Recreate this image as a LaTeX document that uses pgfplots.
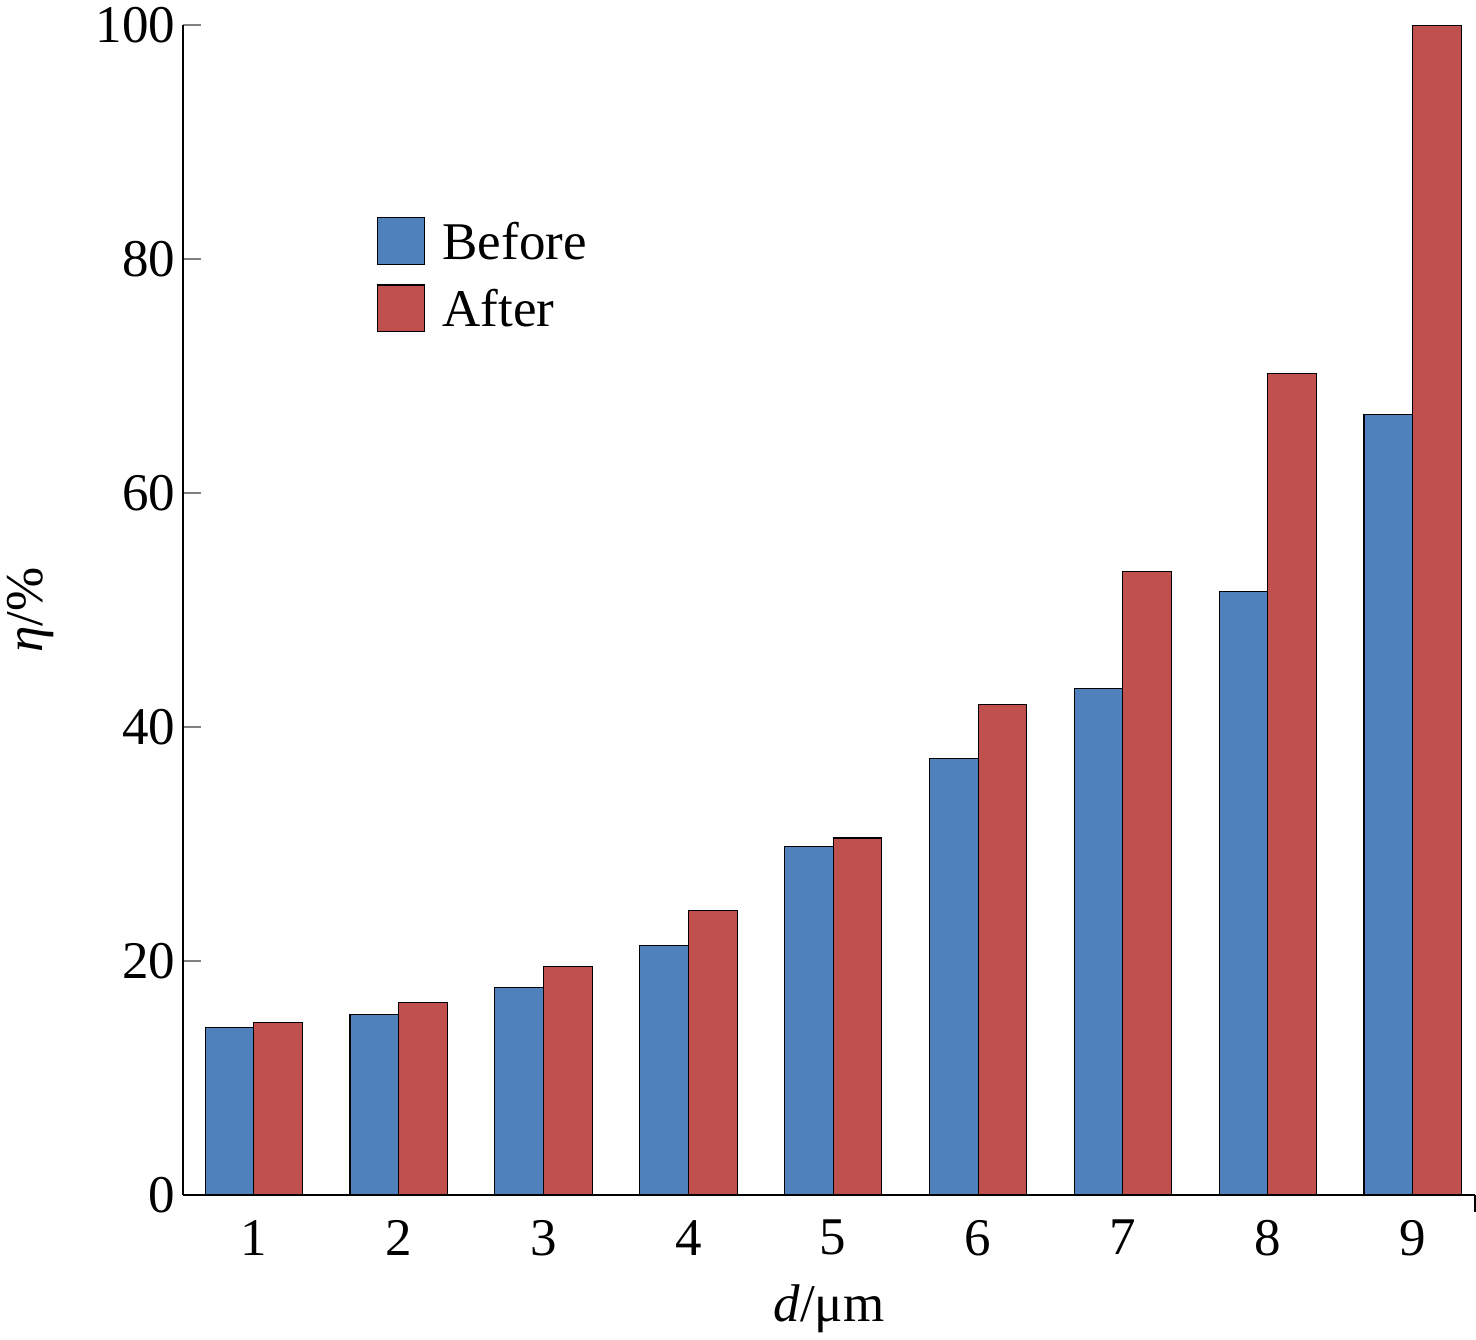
\documentclass[border=0pt]{standalone}
\usepackage{pgfplots}
\pgfplotsset{compat=1.18}
\usepackage{fontspec}
\setmainfont{Liberation Serif}
\definecolor{cb}{HTML}{4F81BD}
\definecolor{cr}{HTML}{C0504D}
\begin{document}
\begin{tikzpicture}
\begin{axis}[
  scale only axis, width=585pt, height=529.5pt,
  xmin=0.51, xmax=9.43, ymin=0, ymax=100,
  axis x line*=bottom, axis y line*=left,
  axis line style={line width=1pt, -},
  ytick={0,20,...,100}, xtick={1,...,9},
  x tick style={draw=none},
  y tick style={line width=1pt},
  tick align=inside, major tick length=8pt,
  tick label style={font=\fontsize{24}{28}\selectfont},
  /pgf/number format/assume math mode=true,
  xlabel={\textit{d}/μm}, ylabel={\textit{η}/\%},
  label style={font=\fontsize{24}{28}\selectfont},
  xlabel style={yshift=-6pt},
  ylabel style={yshift=12pt},
  ybar, bar width=0.336,
  legend style={draw=none, fill=none, at={(0.145,0.84)}, anchor=north west,
    font=\fontsize{24}{28}\selectfont, row sep=8pt},
  legend cell align=left,
  legend image code/.code={\draw[#1, draw=black, line width=0.5pt] (0pt,-10pt) rectangle (21pt,11pt);},
  clip=false,
]
\addplot[fill=cb, draw=black, line width=0.5pt, bar shift=-0.168] coordinates {
(1,14.3)(2,15.4)(3,17.7)(4,21.3)(5,29.8)(6,37.3)(7,43.3)(8,51.6)(9,66.7)};
\addplot[fill=cr, draw=black, line width=0.5pt, bar shift=0.168] coordinates {
(1,14.7)(2,16.4)(3,19.5)(4,24.3)(5,30.5)(6,41.9)(7,53.3)(8,70.2)(9,100)};
\legend{\hspace{6pt}Before, \hspace{6pt}After}
\coordinate (e) at (axis cs:9.43,0);
\end{axis}
\draw[line width=1pt] (e) -- ++(0,-8pt);
\end{tikzpicture}
\end{document}
